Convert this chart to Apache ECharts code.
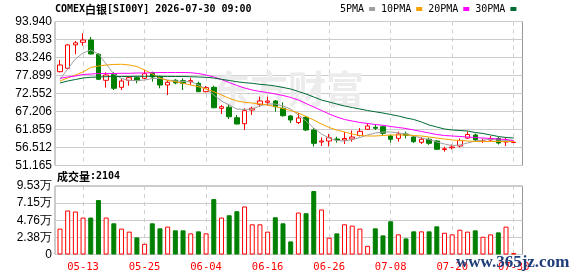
<!DOCTYPE html>
<html><head><meta charset="utf-8">
<script src="https://cdn.jsdelivr.net/npm/echarts@6/dist/echarts.min.js"></script>
<style>html,body{margin:0;padding:0;background:#fff}#c{width:578px;height:276px}</style>
</head><body><div id="c"></div>
<script>
const dates = ['05-08','05-11','05-12','05-13','05-14','05-15','05-18','05-19','05-20','05-21','05-22','05-25','05-26','05-27','05-28','05-29','06-01','06-02','06-03','06-04','06-05','06-08','06-09','06-10','06-11','06-12','06-15','06-16','06-17','06-18','06-19','06-22','06-23','06-24','06-25','06-26','06-29','06-30','07-01','07-02','07-03','07-06','07-07','07-08','07-09','07-10','07-13','07-14','07-15','07-16','07-17','07-20','07-21','07-22','07-23','07-24','07-27','07-28','07-29','07-30'];
// [open, close, low, high]
const ohlc = [
[79.03,81.02,78.85,82.50],[80.04,86.96,79.83,87.20],[87.00,87.60,84.20,88.15],[87.76,88.44,86.75,90.43],
[88.44,84.29,84.20,89.34],[84.20,76.77,76.56,84.50],[76.47,78.05,74.28,78.85],[78.26,74.10,73.59,78.85],
[74.39,76.27,73.59,77.00],[76.47,77.25,74.87,77.75],[77.25,76.37,75.58,77.54],[77.07,78.44,76.86,79.53],
[78.73,77.45,76.06,79.03],[77.54,75.08,74.10,77.84],[75.08,75.88,72.11,76.50],[76.50,75.70,75.30,76.80],
[76.37,75.58,73.59,77.07],[76.06,76.37,75.08,77.25],[75.58,73.09,73.00,76.06],[73.09,74.28,72.90,74.78],
[74.39,68.33,68.15,74.87],[68.15,68.63,66.46,69.14],[68.45,65.66,65.00,69.34],[65.36,63.49,63.40,66.17],
[63.58,67.44,61.71,68.16],[67.65,68.16,66.17,68.63],[69.34,70.32,68.63,71.60],[69.94,70.32,68.93,71.60],
[70.32,68.63,67.15,70.62],[68.16,65.96,65.66,69.94],[65.87,64.68,63.79,66.17],[63.94,65.28,63.49,66.76],
[65.48,61.71,61.41,65.87],[61.71,57.76,56.81,62.22],[58.15,58.44,56.96,59.49],[58.44,59.42,56.81,60.52],
[59.04,58.74,57.94,59.72],[58.74,59.19,57.55,61.12],[59.04,59.63,58.24,61.56],[60.08,61.32,59.80,62.30],
[61.92,62.90,61.71,63.70],[62.51,62.22,61.71,63.40],[62.69,60.73,60.23,62.90],[59.93,58.95,57.94,60.23],
[59.24,60.52,58.24,61.21],[60.52,60.14,59.24,61.21],[59.63,58.24,57.85,59.93],[58.06,58.95,57.55,59.54],
[58.95,57.76,57.26,59.42],[58.44,55.98,55.77,58.74],[55.92,56.13,55.27,56.75],[56.43,56.66,55.92,57.40],
[56.96,58.59,56.57,59.19],[59.33,60.38,59.04,61.27],[60.23,58.74,58.29,60.67],[58.29,58.44,57.85,59.19],
[58.74,59.19,58.44,59.93],[59.19,57.85,57.40,59.63],[58.15,58.29,56.96,59.42],[58.00,58.09,57.97,58.15]
];
// volume in 万
const volume = [3.60,6.12,5.98,5.14,5.14,7.57,5.14,4.34,3.60,3.18,2.38,1.49,4.34,3.64,3.88,3.36,3.36,2.94,3.22,2.94,7.71,5.14,5.46,6.02,6.68,4.20,4.20,3.18,5.18,4.34,1.82,5.84,5.74,8.83,6.26,2.34,2.94,4.20,4.02,3.60,1.21,3.64,2.66,4.62,2.80,2.24,3.22,3.22,3.22,3.92,3.03,2.80,3.45,3.18,3.36,2.47,2.80,3.08,3.88,0.21];
const ma5 = [76.71,79.83,82.80,84.58,85.47,84.29,81.32,78.35,77.01,76.41,76.41,76.56,77.01,77.01,76.56,76.27,76.12,76.06,75.08,73.89,72.11,70.33,69.14,67.95,67.80,67.95,68.84,69.44,69.44,68.84,67.95,66.17,64.38,62.30,60.52,59.33,58.59,58.44,58.89,59.48,60.23,60.82,61.12,61.12,60.82,60.52,59.93,59.33,58.89,58.15,57.55,57.11,57.26,57.85,58.44,58.74,58.89,58.74,58.59,58.44];
const ma10 = [76.27,77.16,78.05,78.94,80.28,80.72,81.02,81.17,81.23,81.02,80.57,79.53,78.36,77.16,76.41,76.06,75.58,75.08,74.57,73.89,73.09,72.11,71.13,70.33,69.94,69.73,69.43,69.14,68.69,68.10,67.50,66.76,65.72,64.68,63.49,62.45,61.71,61.12,60.52,60.08,59.93,59.93,60.08,60.23,60.23,60.23,60.08,59.93,59.63,59.33,59.04,58.74,58.59,58.44,58.29,58.29,58.29,58.29,58.29,58.29];
const ma20 = [77.07,77.45,77.75,78.20,78.34,78.49,78.49,78.49,78.55,78.55,78.64,78.64,78.73,78.79,78.79,78.79,78.79,78.73,78.49,78.05,77.45,76.71,75.82,74.93,74.19,73.59,73.15,72.85,72.40,71.96,71.37,70.62,69.58,68.54,67.50,66.46,65.57,64.83,64.38,63.94,63.64,63.34,63.11,62.75,62.45,62.16,61.71,61.27,60.82,60.37,60.08,59.93,59.78,59.63,59.48,59.33,59.19,59.04,58.89,58.59];
const ma30 = [75.67,76.27,76.71,77.16,77.37,77.45,77.54,77.60,77.60,77.60,77.66,77.66,77.66,77.66,77.60,77.60,77.60,77.54,77.45,77.37,77.16,76.77,76.42,76.06,75.76,75.58,75.28,75.08,74.78,74.34,73.89,73.15,72.40,71.51,70.62,70.03,69.43,68.84,68.39,67.95,67.50,67.12,66.76,66.31,65.87,65.28,64.83,64.09,63.20,62.60,62.01,61.71,61.56,61.41,60.97,60.67,60.23,59.78,59.48,59.33];
const priceTickLabels = ['51.165','56.512','61.859','67.206','72.552','77.899','83.246','88.593','93.940'];
const volTickLabels = ['0','2.38万','4.76万','7.15万','9.53万'];
const priceMin = 51.165, priceMax = 93.94;
const volMin = 0, volMax = 9.53;

const UP = '#ff0000', DOWN = '#008000';
const mono = 'DejaVu Sans Mono';
const labelEvery = function (idx) { return idx >= 3 && (idx - 3) % 8 === 0; };
const pStep = (priceMax - priceMin) / 8;
const vStep = (volMax - volMin) / 4;

const chart = echarts.init(document.getElementById('c'), null, {renderer: 'canvas'});
const volData = volume.map(function (v, i) {
  const up = ohlc[i][1] >= ohlc[i][0];
  return {value: v, itemStyle: up ? {color: '#fff', borderColor: UP, borderWidth: 1} : {color: DOWN, borderColor: DOWN, borderWidth: 1}};
});
const splitX = {show: true, interval: labelEvery, alignWithLabel: true, lineStyle: {color: '#cfcfcf', type: [4, 4], width: 1}};

chart.setOption({
  animation: false,
  backgroundColor: '#fff',
  title: [
    {left: 55, top: 4, padding: 0, text: '{k|COMEX}{c|白银}{k|[SI00Y] 2026-07-30 09:00}',
     textStyle: {rich: {k: {fontFamily: mono, fontSize: 10, color: '#000'}, c: {fontFamily: 'Noto Sans CJK SC', fontSize: 11, color: '#000'}}}},
    {left: 57, top: 171, padding: 0, text: '{c|成交量}{k|:2104}',
     textStyle: {rich: {k: {fontFamily: mono, fontSize: 10, color: '#000'}, c: {fontFamily: 'Noto Sans CJK SC', fontSize: 11, color: '#000'}}}}
  ],
  legend: {
    left: 340, top: 4, padding: 0, itemGap: 6, itemWidth: 6, itemHeight: 4, align: 'right', icon: 'rect', selectedMode: false,
    textStyle: {fontFamily: mono, fontSize: 10, color: '#000'},
    data: ['5PMA', '10PMA', '20PMA', '30PMA']
  },
  graphic: [
    {type: 'text', left: 212, top: 70, z: 1, silent: true, style: {text: '东方财富', font: 'bold 38px "Noto Sans CJK SC"', fill: '#ececec'}},
    {type: 'text', left: 456, top: 254, z: 100, silent: true, style: {text: 'www.365jz.com', font: 'bold 17px "Liberation Serif"', fill: '#1f3d7a'}}
  ],
  grid: [
    {left: 55, top: 21.5, width: 467.5, height: 144, show: true, borderColor: '#999', borderWidth: 1, backgroundColor: 'transparent'},
    {left: 56.15, top: 21.5, width: 461.4, height: 144},
    {left: 55, top: 186, width: 467.5, height: 68.5, show: true, borderColor: '#999', borderWidth: 1, backgroundColor: 'transparent'},
    {left: 56.15, top: 186, width: 461.4, height: 68.5}
  ],
  xAxis: [
    {gridIndex: 0, type: 'value', min: 0, max: 1, show: false},
    {gridIndex: 1, type: 'category', data: dates, boundaryGap: true, axisLine: {show: false}, axisTick: {show: false}, axisLabel: {show: false}, splitLine: splitX},
    {gridIndex: 2, type: 'value', min: 0, max: 1, show: false},
    {gridIndex: 3, type: 'category', data: dates, boundaryGap: true, axisLine: {show: false}, axisTick: {show: false},
     axisLabel: {show: true, interval: labelEvery, margin: 7, color: '#ff0000', fontFamily: mono, fontSize: 10.5, hideOverlap: false}, splitLine: splitX}
  ],
  yAxis: [
    {gridIndex: 0, type: 'value', min: priceMin, max: priceMax, interval: pStep, axisLine: {show: false}, axisTick: {show: false},
     axisLabel: {margin: 3, color: '#000', fontFamily: 'Liberation Sans', fontSize: 12,
       formatter: function (v) { return priceTickLabels[Math.round((v - priceMin) / pStep)]; }},
     splitLine: {show: true, lineStyle: {color: '#cccccc', width: 1}}},
    {gridIndex: 1, type: 'value', min: priceMin, max: priceMax, show: false},
    {gridIndex: 2, type: 'value', min: volMin, max: volMax, interval: vStep, axisLine: {show: false}, axisTick: {show: false},
     axisLabel: {margin: 3, color: '#000', fontFamily: 'Liberation Sans', fontSize: 12,
       formatter: function (v) { return volTickLabels[Math.round((v - volMin) / vStep)]; }},
     splitLine: {show: true, lineStyle: {color: '#cccccc', width: 1}}},
    {gridIndex: 3, type: 'value', min: volMin, max: volMax, show: false}
  ],
  series: [
    {type: 'candlestick', xAxisIndex: 1, yAxisIndex: 1, data: ohlc, barWidth: 5, silent: true, z: 3,
     itemStyle: {color: '#fff', color0: DOWN, borderColor: UP, borderColor0: DOWN, borderWidth: 1}},
    {type: 'line', name: '5PMA', xAxisIndex: 1, yAxisIndex: 1, data: ma5, color: '#a0a0a0', symbol: 'none', silent: true, z: 4, lineStyle: {width: 1, color: '#a0a0a0'}},
    {type: 'line', name: '10PMA', xAxisIndex: 1, yAxisIndex: 1, data: ma10, color: '#f5a200', symbol: 'none', silent: true, z: 4, lineStyle: {width: 1, color: '#f5a200'}},
    {type: 'line', name: '20PMA', xAxisIndex: 1, yAxisIndex: 1, data: ma20, color: '#ff00ff', symbol: 'none', silent: true, z: 4, lineStyle: {width: 1, color: '#ff00ff'}},
    {type: 'line', name: '30PMA', xAxisIndex: 1, yAxisIndex: 1, data: ma30, color: '#006b33', symbol: 'none', silent: true, z: 4, lineStyle: {width: 1, color: '#006b33'}},
    {type: 'bar', xAxisIndex: 3, yAxisIndex: 3, data: volData, barWidth: 5, silent: true, z: 3}
  ]
});
</script></body></html>
